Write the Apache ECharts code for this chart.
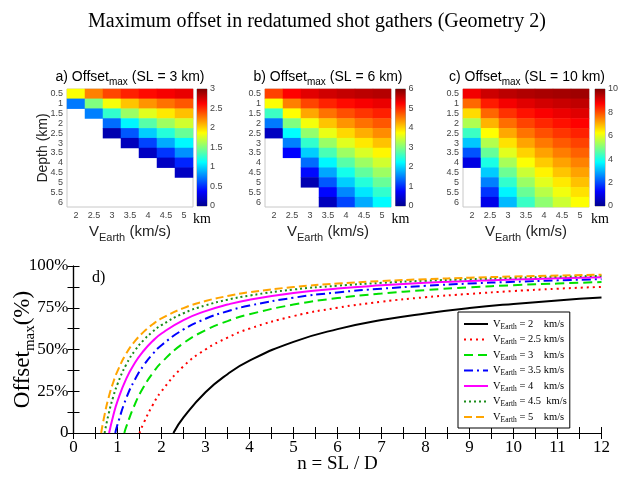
<!DOCTYPE html>
<html>
<head>
<meta charset="utf-8">
<script src="https://cdn.jsdelivr.net/npm/echarts@6/dist/echarts.min.js"></script>
<style>
  html, body { margin: 0; padding: 0; background: #fff; }
  #main { width: 634px; height: 478px; }
</style>
</head>
<body>
<div id="main"></div>
<script>
// heatmap axes
const vEarth = ['2', '2.5', '3', '3.5', '4', '4.5', '5'];
const depths = ['0.5', '1', '1.5', '2', '2.5', '3', '3.5', '4', '4.5', '5', '5.5', '6'];

// offset (km) per V_Earth column, rows = depth 0.5 .. 6 (null = no offset)
const offsetSL3 = [
    [1.87, 0.73, null, null, null, null, null, null, null, null, null, null],
    [2.25, 1.50, 0.75, null, null, null, null, null, null, null, null, null],
    [2.42, 1.85, 1.27, 0.69, 0.11, null, null, null, null, null, null, null],
    [2.53, 2.05, 1.58, 1.10, 0.63, 0.15, null, null, null, null, null, null],
    [2.60, 2.19, 1.79, 1.38, 0.98, 0.57, 0.17, null, null, null, null, null],
    [2.65, 2.29, 1.94, 1.59, 1.23, 0.88, 0.53, 0.17, null, null, null, null],
    [2.69, 2.37, 2.06, 1.74, 1.43, 1.11, 0.80, 0.48, 0.17, null, null, null]
];
const offsetSL6 = [
    [4.87, 3.73, 2.60, 1.46, 0.33, null, null, null, null, null, null, null],
    [5.25, 4.50, 3.75, 3.00, 2.25, 1.50, 0.75, null, null, null, null, null],
    [5.42, 4.85, 4.27, 3.69, 3.11, 2.54, 1.96, 1.38, 0.80, 0.23, null, null],
    [5.53, 5.05, 4.58, 4.10, 3.63, 3.15, 2.68, 2.21, 1.73, 1.26, 0.78, 0.31],
    [5.60, 5.19, 4.79, 4.38, 3.98, 3.57, 3.17, 2.76, 2.36, 1.96, 1.55, 1.15],
    [5.65, 5.29, 4.94, 4.59, 4.23, 3.88, 3.53, 3.17, 2.82, 2.46, 2.11, 1.76],
    [5.69, 5.37, 5.06, 4.74, 4.43, 4.11, 3.80, 3.48, 3.17, 2.86, 2.54, 2.23]
];
const offsetSL10 = [
    [8.87, 7.73, 6.60, 5.46, 4.33, 3.20, 2.06, 0.93, null, null, null, null],
    [9.25, 8.50, 7.75, 7.00, 6.25, 5.50, 4.75, 4.00, 3.25, 2.50, 1.75, 1.00],
    [9.42, 8.85, 8.27, 7.69, 7.11, 6.54, 5.96, 5.38, 4.80, 4.23, 3.65, 3.07],
    [9.53, 9.05, 8.58, 8.10, 7.63, 7.15, 6.68, 6.21, 5.73, 5.26, 4.78, 4.31],
    [9.60, 9.19, 8.79, 8.38, 7.98, 7.57, 7.17, 6.76, 6.36, 5.96, 5.55, 5.15],
    [9.65, 9.29, 8.94, 8.59, 8.23, 7.88, 7.53, 7.17, 6.82, 6.46, 6.11, 5.76],
    [9.69, 9.37, 9.06, 8.74, 8.43, 8.11, 7.80, 7.48, 7.17, 6.86, 6.54, 6.23]
];

// d) Offset_max (%) vs n = SL / D, one curve per V_Earth
const curveV2 = [[2.27, 0], [2.5, 9.3], [3, 24.4], [3.5, 35.2], [4, 43.3], [5, 54.6], [6, 62.2], [7, 67.6], [8, 71.6], [9, 74.8], [10, 77.3], [11, 79.4], [12, 81.1]];
const curveV25 = [[1.5, 0], [1.6, 6.3], [1.8, 16.7], [2, 25.0], [2.5, 40.0], [3, 50.0], [3.5, 57.1], [4, 62.5], [5, 70.0], [6, 75.0], [7, 78.6], [8, 81.3], [9, 83.3], [10, 85.0], [11, 86.4], [12, 87.5]];
const curveV3 = [[1.155, 0], [1.2, 3.8], [1.4, 17.5], [1.6, 27.8], [1.8, 35.8], [2, 42.3], [2.5, 53.8], [3, 61.5], [3.5, 67.0], [4, 71.1], [5, 76.9], [6, 80.8], [7, 83.5], [8, 85.6], [9, 87.2], [10, 88.5], [11, 89.5], [12, 90.4]];
const curveV35 = [[0.949, 0], [1, 5.1], [1.2, 20.9], [1.4, 32.2], [1.6, 40.7], [1.8, 47.3], [2, 52.6], [2.5, 62.0], [3, 68.4], [3.5, 72.9], [4, 76.3], [5, 81.0], [6, 84.2], [7, 86.4], [8, 88.1], [9, 89.5], [10, 90.5], [11, 91.4], [12, 92.1]];
const curveV4 = [[0.809, 0], [0.9, 10.1], [1, 19.1], [1.2, 32.6], [1.4, 42.2], [1.6, 49.4], [1.8, 55.1], [2, 59.6], [2.5, 67.6], [3, 73.0], [3.5, 76.9], [4, 79.8], [5, 83.8], [6, 86.5], [7, 88.4], [8, 89.9], [9, 91.0], [10, 91.9], [11, 92.6], [12, 93.3]];
const curveV45 = [[0.707, 0], [0.8, 11.6], [0.9, 21.4], [1, 29.3], [1.2, 41.1], [1.4, 49.5], [1.6, 55.8], [1.8, 60.7], [2, 64.6], [2.5, 71.7], [3, 76.4], [3.5, 79.8], [4, 82.3], [5, 85.9], [6, 88.2], [7, 89.9], [8, 91.2], [9, 92.1], [10, 92.9], [11, 93.6], [12, 94.1]];
const curveV5 = [[0.629, 0], [0.7, 10.1], [0.8, 21.4], [0.9, 30.1], [1, 37.1], [1.2, 47.6], [1.4, 55.1], [1.6, 60.7], [1.8, 65.1], [2, 68.6], [2.5, 74.8], [3, 79.0], [3.5, 82.0], [4, 84.3], [5, 87.4], [6, 89.5], [7, 91.0], [8, 92.1], [9, 93.0], [10, 93.7], [11, 94.3], [12, 94.8]];
const legendVel = ['2    ', '2.5 ', '3    ', '3.5 ', '4    ', '4.5  ', '5    '];

const jet = ['#00008f', '#0000ff', '#0080ff', '#00ffff', '#80ff80', '#ffff00', '#ff8000', '#ff0000', '#800000'];
const sans = 'Liberation Sans';
const serif = 'Liberation Serif';

let myChart = echarts.init(document.getElementById('main'));

function heatData(cols) {
    let out = [];
    cols.forEach(function (col, i) {
        col.forEach(function (v, j) {
            if (v !== null) out.push([i, j, v]);
        });
    });
    return out;
}

const heatLeft = [67, 265, 463];
const barLeft = [197, 395.5, 595];
const heatMax = [3, 6, 10];
const heatStep = [0.5, 1, 2];
const heatSets = [offsetSL3, offsetSL6, offsetSL10];
const subRich = {
    t: { fontFamily: sans, fontSize: 14, color: '#000', lineHeight: 16 },
    s: { fontFamily: sans, fontSize: 10, color: '#000', lineHeight: 10, padding: [11, 0, 0, 0] }
};

let grids = [], xAxes = [], yAxes = [], series = [], visualMaps = [];

// heatmaps
for (let k = 0; k < 3; k++) {
    grids.push({ left: heatLeft[k], top: 89, width: 126, height: 118, show: true, borderColor: '#c8c8c8', borderWidth: 1, backgroundColor: '#fff', outerBoundsMode: 'none' });
    xAxes.push({
        type: 'category', gridIndex: k, data: vEarth,
        axisLine: { show: false },
        axisTick: { inside: true, length: 2, alignWithLabel: true, lineStyle: { color: '#bbb' } },
        axisLabel: { fontFamily: sans, fontSize: 9, color: '#444', margin: 4, interval: 0 },
        name: '{t|V}{s|Earth}{t| (km/s)}', nameLocation: 'middle', nameGap: 16, nameMoveOverlap: false,
        nameTextStyle: { rich: { t: { fontFamily: sans, fontSize: 15, color: '#222', lineHeight: 17 }, s: { fontFamily: sans, fontSize: 11, color: '#222', lineHeight: 11, padding: [12, 0, 0, 0] } } }
    });
    yAxes.push({
        type: 'category', gridIndex: k, data: depths, inverse: true,
        axisLine: { show: false },
        axisTick: { inside: true, length: 2, alignWithLabel: true, lineStyle: { color: '#bbb' } },
        axisLabel: { fontFamily: sans, fontSize: 9, color: '#444', margin: 4, interval: 0 },
        name: k === 0 ? 'Depth (km)' : '', nameLocation: 'middle', nameGap: 17, nameMoveOverlap: false,
        nameTextStyle: { fontFamily: sans, fontSize: 14, color: '#222' }
    });
    series.push({
        type: 'heatmap', xAxisIndex: k, yAxisIndex: k,
        data: heatData(heatSets[k]),
        emphasis: { disabled: true }
    });
    visualMaps.push({ show: false, seriesIndex: k, min: 0, max: heatMax[k], dimension: 2, inRange: { color: jet } });
}

// colorbars
for (let k = 0; k < 3; k++) {
    grids.push({ left: barLeft[k], top: 89, width: 10, height: 117, show: true, borderColor: '#999', borderWidth: 1, outerBoundsMode: 'none' });
    xAxes.push({
        type: 'category', gridIndex: 3 + k, data: ['km'],
        axisLine: { show: false }, axisTick: { show: false },
        axisLabel: { fontFamily: serif, fontSize: 14, color: '#000', margin: 6 }
    });
    yAxes.push({
        type: 'value', gridIndex: 3 + k, min: 0, max: heatMax[k], interval: heatStep[k], position: 'right',
        axisLine: { show: false }, axisTick: { show: false }, splitLine: { show: false },
        axisLabel: { fontFamily: sans, fontSize: 9, color: '#444', margin: 3 }
    });
    series.push({
        type: 'bar', xAxisIndex: 3 + k, yAxisIndex: 3 + k, data: [heatMax[k]], barWidth: '100%', silent: true,
        itemStyle: {
            color: new echarts.graphic.LinearGradient(0, 0, 0, 1, jet.slice().reverse().map(function (c, i) {
                return { offset: i / (jet.length - 1), color: c };
            }))
        }
    });
}

// line chart d)
const tickStyle = { inside: true, length: 6, lineStyle: { color: '#000' } };
const minorStyle = { show: true, splitNumber: 2, length: 6, lineStyle: { color: '#000' } };
grids.push({ left: 73.5, top: 266, width: 528, height: 167, outerBoundsMode: 'none' });
xAxes.push({
    type: 'value', gridIndex: 6, min: 0, max: 12, interval: 1,
    axisLine: { lineStyle: { color: '#000', width: 1.2 } }, axisTick: tickStyle, minorTick: minorStyle,
    splitLine: { show: false },
    axisLabel: { fontFamily: serif, fontSize: 17, color: '#000', margin: 6 },
    name: 'n = SL / D', nameLocation: 'middle', nameGap: 22, nameMoveOverlap: false,
    nameTextStyle: { fontFamily: serif, fontSize: 19, color: '#000' }
});
xAxes.push({
    type: 'value', gridIndex: 6, min: 0, max: 12, interval: 1, position: 'top',
    axisLine: { lineStyle: { color: '#000', width: 1.2 } }, axisTick: tickStyle, minorTick: minorStyle,
    splitLine: { show: false }, axisLabel: { show: false }
});
yAxes.push({
    type: 'value', gridIndex: 6, min: 0, max: 100, interval: 25,
    axisLine: { lineStyle: { color: '#000', width: 1.2 } }, axisTick: tickStyle, minorTick: minorStyle,
    splitLine: { show: false },
    axisLabel: { fontFamily: serif, fontSize: 17, color: '#000', margin: 5, formatter: function (v) { return v === 0 ? '0' : v + '%'; } },
    name: '{t|Offset}{s|max}{t|(%)}', nameLocation: 'middle', nameGap: 38, nameMoveOverlap: false,
    nameTextStyle: { rich: { t: { fontFamily: serif, fontSize: 23, color: '#000', lineHeight: 26 }, s: { fontFamily: serif, fontSize: 15, color: '#000', lineHeight: 15, padding: [16, 0, 0, 0] } } }
});
yAxes.push({
    type: 'value', gridIndex: 6, min: 0, max: 100, interval: 25, position: 'right',
    axisLine: { lineStyle: { color: '#000', width: 1.2 } }, axisTick: tickStyle, minorTick: minorStyle,
    splitLine: { show: false }, axisLabel: { show: false }
});

const curves = [curveV2, curveV25, curveV3, curveV35, curveV4, curveV45, curveV5];
const curveColors = ['#000000', '#ff0000', '#00e000', '#0000ff', '#ff00ff', '#1a8c1a', '#ffa500'];
const curveDash = ['solid', [2, 4], [9, 5], [9, 4, 2, 4], 'solid', [2, 3], [8, 4]];
curves.forEach(function (c, i) {
    series.push({
        name: 'V' + i, type: 'line', xAxisIndex: 6, yAxisIndex: 6,
        data: c, symbol: 'none', smooth: 0.5, silent: true,
        lineStyle: { color: curveColors[i], width: 2, type: curveDash[i] },
        itemStyle: { color: 'rgba(0,0,0,0)' }
    });
});

let option = {
    animation: false,
    backgroundColor: '#fff',
    grid: grids,
    xAxis: xAxes,
    yAxis: yAxes,
    visualMap: visualMaps,
    series: series,
    legend: {
        orient: 'vertical', left: 458, top: 312,
        data: curves.map(function (c, i) { return 'V' + i; }),
        backgroundColor: '#fff', borderColor: '#000', borderWidth: 1,
        padding: [5, 3, 4, 5], itemGap: 1.5, itemWidth: 24, itemHeight: 10,
        selectedMode: false,
        itemStyle: { opacity: 0 },
        formatter: function (name) {
            let i = Number(name.slice(1));
            return '{v|V}{s|Earth}{v| = ' + legendVel[i] + 'km/s}';
        },
        textStyle: {
            rich: {
                v: { fontFamily: serif, fontSize: 10.5, color: '#000', lineHeight: 12 },
                s: { fontFamily: serif, fontSize: 7.5, color: '#000', lineHeight: 8, padding: [6, 0, 0, 0] }
            }
        }
    },
    graphic: [
        { type: 'text', x: 317, y: 22, style: { text: 'Maximum offset in redatumed shot gathers (Geometry 2)', font: '20px "Liberation Serif"', fill: '#000', align: 'center', verticalAlign: 'middle' } },
        { type: 'text', x: 130, y: 77, style: { text: '{t|a) Offset}{s|max}{t| (SL = 3 km)}', rich: subRich, align: 'center', verticalAlign: 'middle' } },
        { type: 'text', x: 328, y: 77, style: { text: '{t|b) Offset}{s|max}{t| (SL = 6 km)}', rich: subRich, align: 'center', verticalAlign: 'middle' } },
        { type: 'text', x: 527, y: 77, style: { text: '{t|c) Offset}{s|max}{t| (SL = 10 km)}', rich: subRich, align: 'center', verticalAlign: 'middle' } },
        { type: 'text', x: 92, y: 270, style: { text: 'd)', font: '16px "Liberation Serif"', fill: '#000' } }
    ]
};

myChart.setOption(option);
window.addEventListener('resize', function () {
    myChart.resize();
});
</script>
</body>
</html>
